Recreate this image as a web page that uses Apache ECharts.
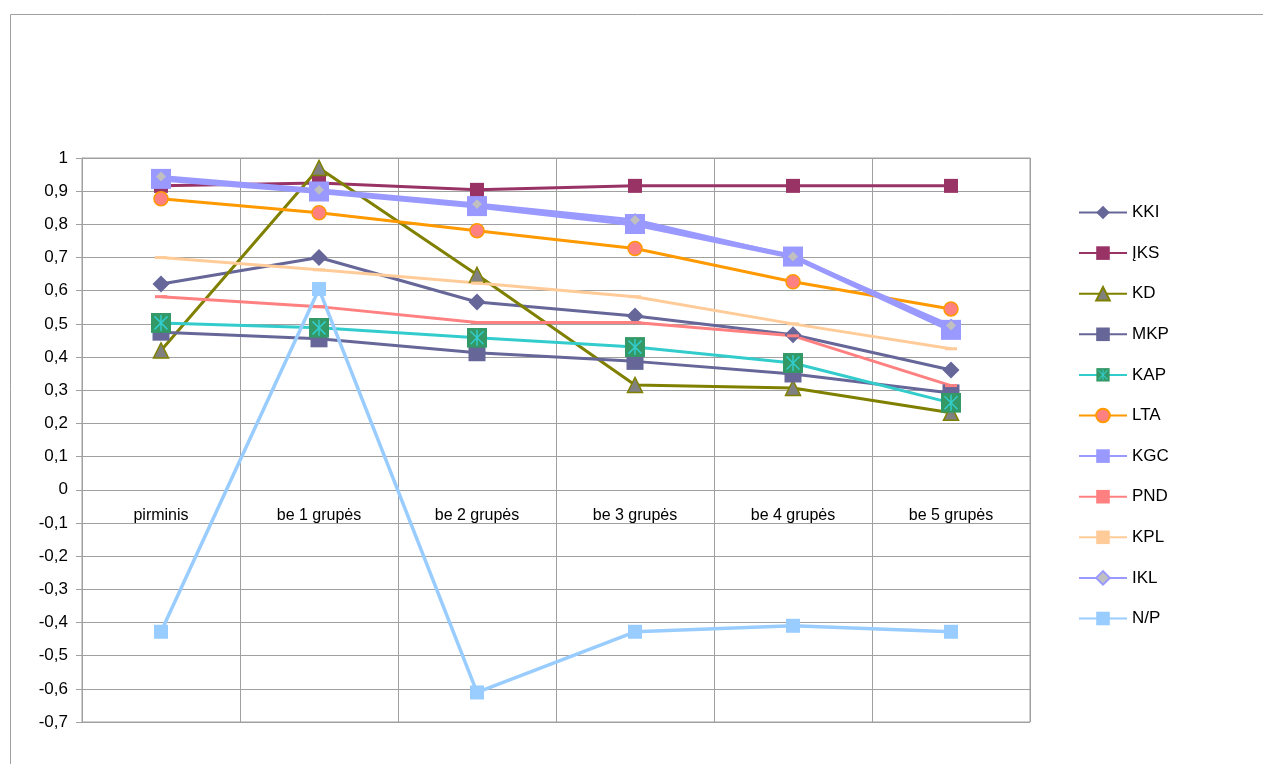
<!DOCTYPE html>
<html>
<head>
<meta charset="utf-8">
<style>
  html, body { margin: 0; padding: 0; background: #fff; }
  #chart { width: 1263px; height: 764px; }
</style>
<script src="https://cdn.jsdelivr.net/npm/echarts@6/dist/echarts.min.js"></script>
</head>
<body>
<div id="chart"></div>
<script>
// Category labels along the horizontal axis
const categories = ['pirminis', 'be 1 grupės', 'be 2 grupės', 'be 3 grupės', 'be 4 grupės', 'be 5 grupės'];

// Series values
const KKI = [0.62, 0.70, 0.566, 0.524, 0.467, 0.361];
const IKS = [0.916, 0.925, 0.904, 0.916, 0.916, 0.916];
const KD  = [0.42, 0.97, 0.648, 0.316, 0.307, 0.232];
const MKP = [0.475, 0.455, 0.413, 0.387, 0.349, 0.292];
const KAP = [0.503, 0.488, 0.458, 0.43, 0.382, 0.262];
const LTA = [0.877, 0.835, 0.781, 0.727, 0.627, 0.545];
const KGC = [0.937, 0.899, 0.855, 0.801, 0.703, 0.482];
const PND = [0.582, 0.552, 0.504, 0.504, 0.464, 0.314];
const KPL = [0.70, 0.663, 0.623, 0.582, 0.50, 0.425];
const IKL = [0.944, 0.904, 0.861, 0.813, 0.703, 0.495];
const NP  = [-0.428, 0.605, -0.611, -0.428, -0.41, -0.428];

// Value axis ticks
const yMin = -0.7, yMax = 1, yStep = 0.1;

const FONT = '"Liberation Sans", Arial, sans-serif';

// Green square with a cyan asterisk, used as the KAP marker
const kapSvg = "<svg xmlns='http://www.w3.org/2000/svg' width='40' height='40'>" +
  "<rect width='40' height='40' fill='#339966'/>" +
  "<path d='M7 7L33 33M33 7L7 33M20 4V36' stroke='#33CCCC' stroke-width='3'/></svg>";
const kapSymbol = 'image://data:image/svg+xml;charset=utf-8,' + encodeURIComponent(kapSvg);

function line(name, data, lineColor, width, symbol, size, fill, border) {
  return {
    name: name,
    type: 'line',
    data: data,
    symbol: symbol,
    symbolSize: size,
    showAllSymbol: true,
    lineStyle: { color: lineColor, width: width },
    itemStyle: {
      color: fill,
      borderColor: border || fill,
      borderWidth: border ? 1.5 : 0,
      opacity: 1
    },
    emphasis: { disabled: true },
    animation: false
  };
}

const chart = echarts.init(document.getElementById('chart'));
chart.setOption({
  backgroundColor: '#ffffff',
  animation: false,
  textStyle: { fontFamily: FONT },
  graphic: [{
    type: 'rect',
    shape: { x: 10.5, y: 14.5, width: 1400, height: 900 },
    style: { fill: 'none', stroke: '#a0a0a0', lineWidth: 1 },
    silent: true,
    z: -10
  }],
  grid: {
    left: 82, top: 158, right: 233, bottom: 42,
    show: true, borderColor: '#a0a0a0', borderWidth: 1
  },
  legend: {
    orient: 'vertical',
    left: 1078,
    top: 204,
    padding: 0,
    itemWidth: 48,
    itemHeight: 17,
    itemGap: 23.6,
    textStyle: { fontFamily: FONT, fontSize: 17, color: '#000' },
    data: ['KKI', 'ĮKS', 'KD', 'MKP', 'KAP', 'LTA', 'KGC', 'PND', 'KPL', 'IKL', 'N/P']
  },
  xAxis: {
    type: 'category',
    data: categories,
    boundaryGap: true,
    axisLine: { onZero: false, lineStyle: { color: '#a0a0a0', width: 1 } },
    axisTick: { show: true, length: 5, lineStyle: { color: '#a0a0a0' } },
    axisLabel: { color: '#000', fontSize: 16, fontFamily: FONT, margin: 18, interval: 0 },
    splitLine: { show: true, lineStyle: { color: '#a0a0a0', width: 1 } }
  },
  yAxis: {
    type: 'value',
    min: yMin,
    max: yMax,
    interval: yStep,
    axisLine: { show: true, lineStyle: { color: '#a0a0a0', width: 1 } },
    axisTick: { show: true, length: 6, lineStyle: { color: '#a0a0a0' } },
    axisLabel: {
      color: '#000', fontSize: 17, fontFamily: FONT, margin: 14,
      formatter: function (v) {
        const r = Math.round(v * 10) / 10;
        return String(r === 0 ? 0 : r).replace('.', ',');
      }
    },
    splitLine: { show: true, lineStyle: { color: '#a0a0a0', width: 1 } }
  },
  series: [
    line('KKI', KKI, '#666699', 3, 'diamond', 17, '#666699'),
    line('ĮKS', IKS, '#993366', 3, 'rect', 14, '#993366'),
    line('KD', KD, '#808000', 3, 'triangle', 15, '#808080', '#808000'),
    line('MKP', MKP, '#666699', 3, 'rect', 17, '#666699'),
    line('KAP', KAP, '#33CCCC', 3, kapSymbol, 20, '#339966'),
    line('LTA', LTA, '#FF9900', 3, 'circle', 14, '#FF8080', '#FF9900'),
    line('KGC', KGC, '#9999FF', 5, 'rect', 20, '#9999FF'),
    line('PND', PND, '#FF8080', 3, 'rect', [12, 3], '#FF8080'),
    line('KPL', KPL, '#FFCC99', 3, 'rect', [12, 3], '#FFCC99'),
    line('IKL', IKL, '#9999FF', 3, 'diamond', 12, '#C0C0C0', '#9999FF'),
    line('N/P', NP, '#99CCFF', 3.5, 'rect', 14, '#99CCFF')
  ]
});

// Move the category axis (and its labels) up to the zero line
const zeroY = chart.convertToPixel({ yAxisIndex: 0 }, 0);
const bottomY = chart.convertToPixel({ yAxisIndex: 0 }, yMin);
chart.setOption({ xAxis: { offset: zeroY - bottomY } });
</script>
</body>
</html>
